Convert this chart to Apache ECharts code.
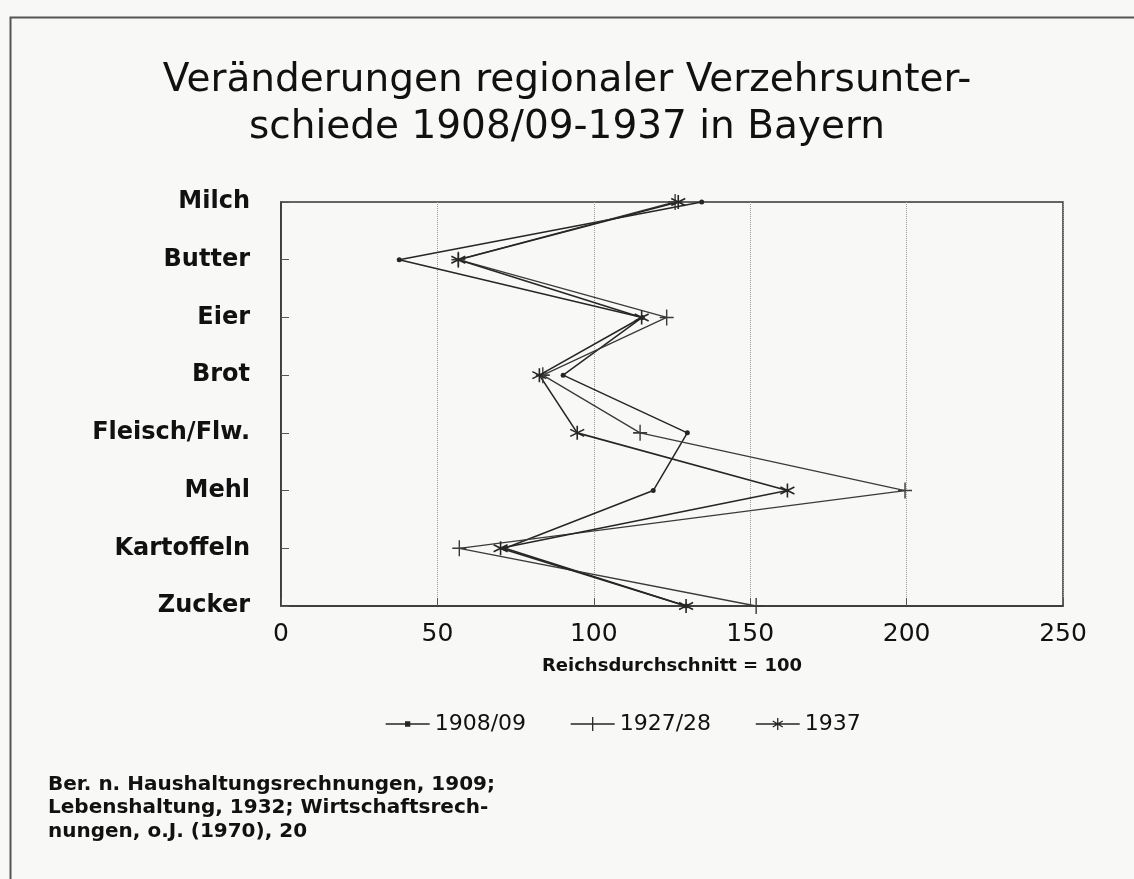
<!DOCTYPE html>
<html>
<head>
<meta charset="utf-8">
<script src="https://cdn.jsdelivr.net/npm/echarts@6/dist/echarts.min.js"></script>
<style>html,body{margin:0;padding:0;background:#f8f8f7;}#c{width:1134px;height:879px;}</style>
</head>
<body>
<div id="c"></div>
<script>
const categories = ['Milch','Butter','Eier','Brot','Fleisch/Flw.','Mehl','Kartoffeln','Zucker'];
const s1908 = [134.5, 37.8, 115.5, 90.2, 129.9, 119, 71.6, 129.5];
const s1927 = [126, 56.7, 123.3, 83.7, 114.8, 199.5, 57, 151.9];
const s1937 = [127, 56.7, 115.3, 82.6, 94.7, 161.9, 70.2, 129.5];
const xTicks = [0, 50, 100, 150, 200, 250];
const titleText = 'Veränderungen regionaler Verzehrsunter-\nschiede 1908/09-1937 in Bayern';
const xName = 'Reichsdurchschnitt = 100';
const sourceText = 'Ber. n. Haushaltungsrechnungen, 1909;\nLebenshaltung, 1932; Wirtschaftsrech-\nnungen, o.J. (1970), 20';
const seriesNames = ['1908/09', '1927/28', '1937'];

const ink = '#262626';
const plusPath = 'path://M0,-1L0,1M-1,0L1,0';
const starPath = 'path://M0,-1L0,1M-0.87,-0.5L0.87,0.5M-0.87,0.5L0.87,-0.5';
const legendIcons = [
  'path://M0,0M44,14M0,7L44,7M20,5L24,5L24,9L20,9Z',
  'path://M0,0M44,14M0,7L44,7M22,0L22,14',
  'path://M0,0M44,14M0,7L44,7M22,1L22,13M17,4L27,10M17,10L27,4'
];

const chart = echarts.init(document.getElementById('c'));
chart.setOption({
  backgroundColor: '#f8f8f7',
  animation: false,
  title: {
    text: titleText,
    left: 'center',
    top: 52,
    textStyle: {fontFamily: 'DejaVu Sans', fontSize: 39, fontWeight: 'normal', color: '#111', lineHeight: 47}
  },
  graphic: [
    {type: 'rect', left: 8, top: 15, shape: {width: 1300, height: 1000}, style: {fill: 'none', stroke: '#555', lineWidth: 2}, silent: true},
    {type: 'text', left: 48, top: 773, style: {text: sourceText, font: 'bold 20px "DejaVu Sans"', fill: '#111', lineHeight: 23.5}}
  ],
  legend: {
    left: 380,
    top: 708,
    itemWidth: 44,
    itemHeight: 14,
    itemGap: 44,
    itemStyle: {color: ink, borderColor: ink, borderWidth: 1.3},
    textStyle: {fontFamily: 'DejaVu Sans', fontSize: 22, color: '#111'},
    data: seriesNames.map((n, i) => ({name: n, icon: legendIcons[i]}))
  },
  grid: {left: 281, right: 71, top: 202, bottom: 273, show: true, borderColor: '#333', borderWidth: 1.5, backgroundColor: 'transparent'},
  xAxis: {
    type: 'value',
    min: 0, max: 250, interval: 50,
    name: xName,
    nameLocation: 'middle',
    nameGap: 51,
    nameTextStyle: {fontFamily: 'DejaVu Sans', fontSize: 18, fontWeight: 'bold', color: '#111'},
    axisLine: {show: true, lineStyle: {color: '#333', width: 1.5}},
    axisTick: {show: true, inside: true, length: 8, lineStyle: {color: '#555'}},
    axisLabel: {fontFamily: 'DejaVu Sans', fontSize: 25, color: '#111', margin: 16,
      formatter: v => xTicks.indexOf(v) >= 0 ? String(v) : ''},
    splitLine: {show: true, lineStyle: {type: 'dotted', color: '#999', width: 1}}
  },
  yAxis: {
    type: 'category',
    data: categories,
    inverse: true,
    boundaryGap: false,
    axisLine: {show: true, lineStyle: {color: '#333', width: 1.5}},
    axisTick: {show: true, inside: true, length: 8, lineStyle: {color: '#555'}},
    axisLabel: {fontFamily: 'DejaVu Sans', fontSize: 24, fontWeight: 'bold', color: '#111', margin: 31},
    splitLine: {show: false}
  },
  series: [
    {name: seriesNames[0], type: 'line', data: s1908, symbol: 'circle', symbolSize: 5,
      lineStyle: {color: ink, width: 1.5}, itemStyle: {color: ink}},
    {name: seriesNames[1], type: 'line', data: s1927, symbol: plusPath, symbolSize: [14, 16],
      lineStyle: {color: '#3a3a3a', width: 1.3}, itemStyle: {color: '#3a3a3a', borderColor: '#3a3a3a', borderWidth: 1.5}},
    {name: seriesNames[2], type: 'line', data: s1937, symbol: starPath, symbolSize: 14,
      lineStyle: {color: ink, width: 1.6}, itemStyle: {color: ink, borderColor: ink, borderWidth: 1.6}}
  ]
});
</script>
</body>
</html>
